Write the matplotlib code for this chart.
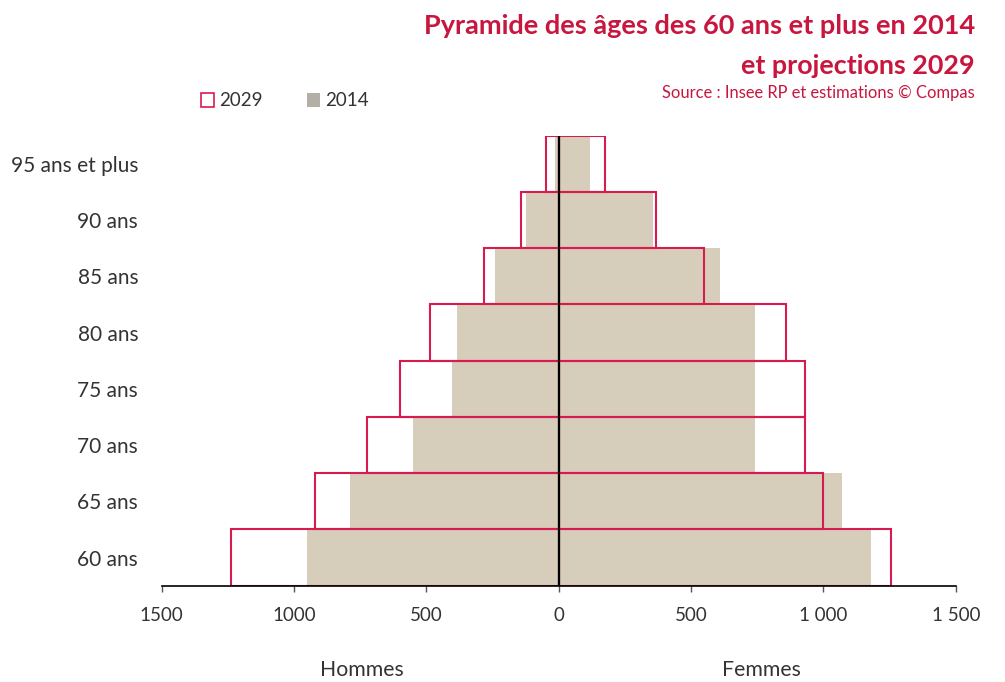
import matplotlib
matplotlib.use("Agg")
import matplotlib.pyplot as plt
from matplotlib.patches import Patch

# ------------------------------------ Data ----------------------------------
ages = ["60 ans", "65 ans", "70 ans", "75 ans", "80 ans", "85 ans", "90 ans", "95 ans et plus"]
men_2014 = [950, 790, 550, 405, 385, 240, 125, 15]
women_2014 = [1180, 1070, 740, 740, 740, 610, 355, 118]
men_2029 = [1240, 920, 725, 600, 487, 284, 143, 48]
women_2029 = [1255, 998, 930, 930, 860, 550, 367, 176]

x_ticks = [-1500, -1000, -500, 0, 500, 1000, 1500]
x_tick_labels = ["1500", "1000", "500", "0", "500", "1 000", "1 500"]

# ------------------------------------ Style ----------------------------------
plt.rcParams["font.family"] = ["Lato", "DejaVu Sans"]
BEIGE = "#d6cdba"
RED = "#d81b4f"
TITLE_RED = "#c8163f"
TEXT = "#333333"

fig = plt.figure(figsize=(10.05, 6.82), dpi=100)
ax = fig.add_axes([0.161, 0.1412, 0.79, 0.66])

y = range(len(ages))

# 2014 filled bars
ax.barh(y, [-v for v in men_2014], height=1.0, color=BEIGE, edgecolor="none", zorder=1)
ax.barh(y, women_2014, height=1.0, color=BEIGE, edgecolor="none", zorder=1)

# 2029 outlined bars
ax.barh(y, [-v for v in men_2029], height=1.0, facecolor="none", edgecolor=RED, linewidth=1.5, zorder=2)
ax.barh(y, women_2029, height=1.0, facecolor="none", edgecolor=RED, linewidth=1.5, zorder=2)

# centre line
ax.axvline(0, color="black", linewidth=1.6, zorder=3)

ax.set_xlim(-1500, 1500)
ax.set_ylim(-0.5, len(ages) - 0.5)

ax.set_yticks(list(y))
ax.set_yticklabels(ages, fontsize=15, color=TEXT)
ax.tick_params(axis="y", length=0, pad=17)

ax.set_xticks(x_ticks)
ax.set_xticklabels(x_tick_labels, fontsize=13.5, color=TEXT)
ax.tick_params(axis="x", length=4, width=1, color="#555555", pad=11)

for side in ["left", "right", "top"]:
    ax.spines[side].set_visible(False)
ax.spines["bottom"].set_color("black")
ax.spines["bottom"].set_linewidth(1.2)

# sex labels
fig.text(362 / 1005, 1 - 670 / 682, "Hommes", ha="center", va="center", fontsize=15.3, color=TEXT)
fig.text(761 / 1005, 1 - 670 / 682, "Femmes", ha="center", va="center", fontsize=15.3, color=TEXT)

# titles
fig.text(975 / 1005, 1 - 26 / 682, "Pyramide des âges des 60 ans et plus en 2014",
         ha="right", va="center", fontsize=19.5, fontweight="bold", color=TITLE_RED)
fig.text(975 / 1005, 1 - 66 / 682, "et projections 2029",
         ha="right", va="center", fontsize=19.4, fontweight="bold", color=TITLE_RED)
fig.text(975 / 1005, 1 - 93 / 682, "Source : Insee RP et estimations © Compas",
         ha="right", va="center", fontsize=11.9, color=TITLE_RED)

# legend
handles = [Patch(facecolor="white", edgecolor=RED, linewidth=1.2, label="2029"),
           Patch(facecolor="#b3afa7", edgecolor="none", label="2014")]
fig.legend(handles=handles, loc="center left", bbox_to_anchor=(184 / 1005, 1 - 101 / 682),
           ncol=2, frameon=False, fontsize=13.5, handlelength=0.7, handleheight=0.7,
           handletextpad=0.25, columnspacing=2.4, labelcolor=TEXT)

fig.savefig("out.png", dpi=100, facecolor="white")
